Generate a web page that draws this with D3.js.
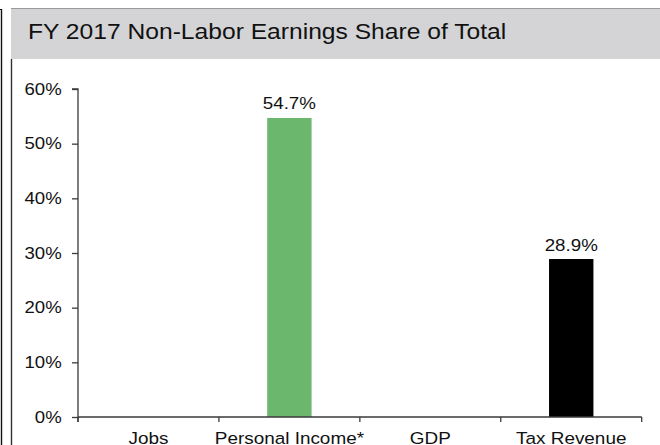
<!DOCTYPE html>
<html>
<head>
<meta charset="utf-8">
<script src="https://cdn.jsdelivr.net/npm/d3@7"></script>
<style>
  html, body { margin: 0; padding: 0; background: #fff; }
  svg { display: block; font-family: "Liberation Sans", Arial, sans-serif; }
</style>
</head>
<body>
<svg id="chart" width="660" height="445"></svg>
<script>
const title = "FY 2017 Non-Labor Earnings Share of Total";
const categories = ["Jobs", "Personal Income*", "GDP", "Tax Revenue"];
const values = [null, 54.7, null, 28.9];
const barColors = ["#6cb76e", "#6cb76e", "#000000", "#000000"];
const yTicks = [0, 10, 20, 30, 40, 50, 60];

const svg = d3.select("#chart");
const W = 660, H = 445;
const plot = { left: 78, right: 641.7, top: 89, bottom: 417 };
const sx = 1.12;      // horizontal stretch of label glyphs
const fs = 16.6;

// frame lines on the left
svg.append("line").attr("x1", 1.5).attr("x2", 1.5).attr("y1", 9).attr("y2", H)
  .attr("stroke", "#111").attr("stroke-width", 1.4);
svg.append("line").attr("x1", 0).attr("x2", 2).attr("y1", 9.5).attr("y2", 9.5)
  .attr("stroke", "#111").attr("stroke-width", 1);
svg.append("line").attr("x1", 11.5).attr("x2", 11.5).attr("y1", 59).attr("y2", H)
  .attr("stroke", "#333").attr("stroke-width", 1.4);

// title box
svg.append("rect").attr("x", 11).attr("y", 8).attr("width", W - 11).attr("height", 51)
  .attr("fill", "#d4d4d6");
svg.append("line").attr("x1", 11).attr("x2", W).attr("y1", 8.5).attr("y2", 8.5)
  .attr("stroke", "#9a9a9a").attr("stroke-width", 1);
svg.append("text").attr("transform", "translate(28,38.5) scale(1.1,1)")
  .attr("font-size", 22.4).attr("fill", "#111")
  .text(title);

// scales
const y = d3.scaleLinear().domain([0, 60]).range([plot.bottom, plot.top]);
const pInner = 0.685;
const x = d3.scaleBand().domain(categories).range([plot.left, plot.right])
  .paddingInner(pInner).paddingOuter(pInner / 2);

// y axis
const yAxis = d3.axisLeft(y).tickValues(yTicks).tickFormat(d => d + "%")
  .tickSize(6).tickPadding(10);
const gy = svg.append("g").attr("transform", `translate(${plot.left},0)`).call(yAxis);
gy.select(".domain").attr("stroke", "#3a3a3a").attr("stroke-width", 1.3)
  .attr("d", `M-6,${plot.top}H0V${plot.bottom + 5}`);
gy.selectAll(".tick line").attr("stroke", "#3a3a3a").attr("stroke-width", 1.3);
gy.selectAll(".tick text")
  .attr("x", -16.3 / sx)
  .attr("transform", `scale(${sx},1)`)
  .attr("font-size", fs)
  .attr("fill", "#111").attr("font-family", "Liberation Sans, Arial, sans-serif");

// bars
const gap = (x.step() - x.bandwidth()) / 2;
svg.append("g").selectAll("rect")
  .data(categories.map((c, i) => ({ c, v: values[i], col: barColors[i] })).filter(d => d.v != null))
  .join("rect")
  .attr("x", d => x(d.c))
  .attr("width", x.bandwidth())
  .attr("y", d => y(d.v))
  .attr("height", d => y(0) - y(d.v))
  .attr("fill", d => d.col);

// value labels
svg.append("g").selectAll("text")
  .data(categories.map((c, i) => ({ c, v: values[i] })).filter(d => d.v != null))
  .join("text")
  .attr("transform", d => `translate(${x(d.c) + x.bandwidth() / 2},${y(d.v) - 8.5}) scale(1.09,1)`)
  .attr("text-anchor", "middle")
  .attr("font-size", 17.2).attr("fill", "#111")
  .text(d => d.v.toFixed(1) + "%");

// x axis line and boundary ticks
const gx = svg.append("g");
gx.append("line").attr("x1", plot.left).attr("x2", plot.right)
  .attr("y1", y(0)).attr("y2", y(0)).attr("stroke", "#3a3a3a").attr("stroke-width", 1.3);
const bounds = categories.map(c => x(c) - gap).concat([x(categories[categories.length - 1]) + x.bandwidth() + gap]);
gx.selectAll("line.tk").data(bounds).join("line").attr("class", "tk")
  .attr("x1", d => d).attr("x2", d => d)
  .attr("y1", y(0)).attr("y2", y(0) + 5)
  .attr("stroke", "#3a3a3a").attr("stroke-width", 1.3);
gx.selectAll("text").data(categories).join("text")
  .attr("transform", d => `translate(${x(d) + x.bandwidth() / 2},444) scale(${sx + 0.02},1)`)
  .attr("text-anchor", "middle")
  .attr("font-size", fs).attr("fill", "#111")
  .text(d => d);
</script>
</body>
</html>
